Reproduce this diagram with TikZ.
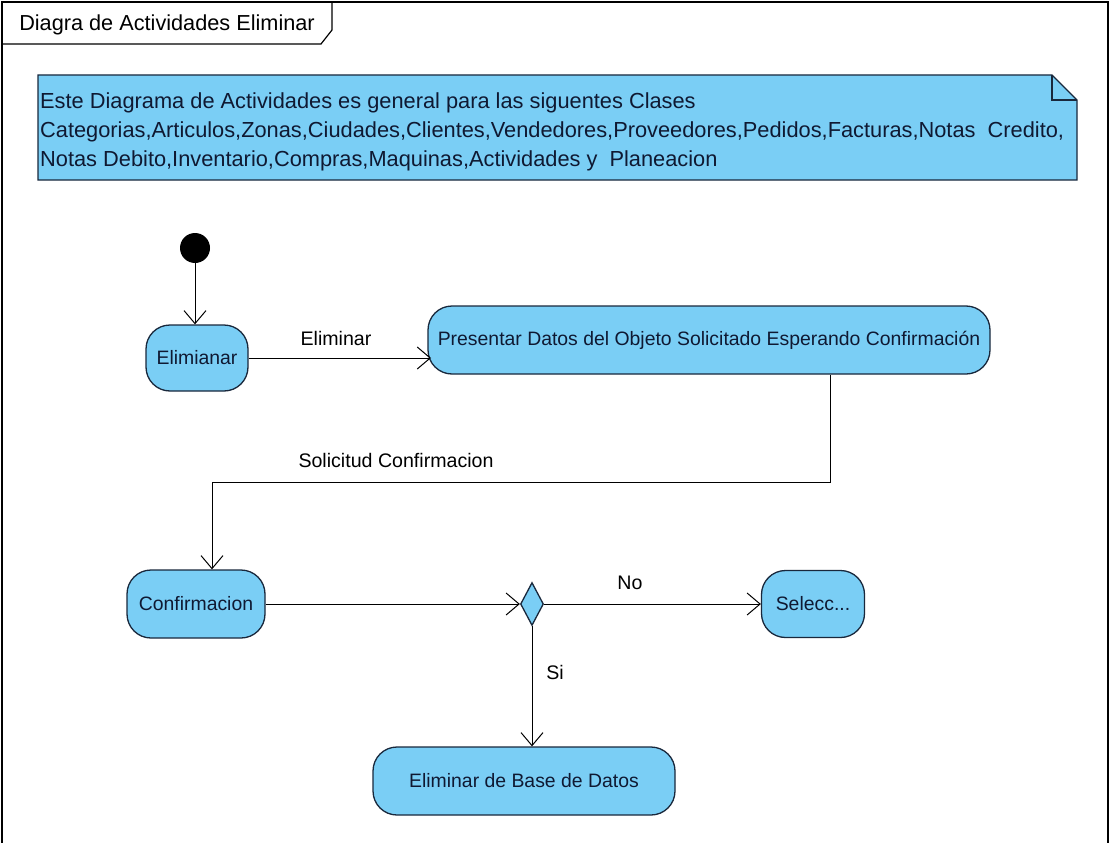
\documentclass[tikz,border=0pt]{standalone}
\usepackage{fontspec}
\setmainfont{Liberation Sans}
\usetikzlibrary{arrows.meta,shapes.geometric,calc}
\definecolor{vpfill}{RGB}{122,206,245}
\definecolor{vpline}{RGB}{25,40,60}
\definecolor{vptext}{RGB}{15,25,50}
\tikzset{
  act/.style={draw=vpline, fill=vpfill, line width=1.3pt, rounded corners=24pt,
    inner sep=0pt, text=vptext, font=\fontsize{19.4}{21}\selectfont},
  flow/.style={draw=black, line width=1pt, -{Straight Barb[length=13pt,width=22pt,line width=1pt]}},
  lbl/.style={inner sep=0pt, text=black, font=\fontsize{19.6}{21}\selectfont},
  notetxt/.style={anchor=base west, inner sep=0pt, text=vptext, font=\fontsize{21.8}{23}\selectfont},
}
\begin{document}
\begin{tikzpicture}[x=1pt,y=-1pt]
\useasboundingbox (0,0) rectangle (1111,843);
\fill[white] (0,0) rectangle (1111,843);
% frame
\draw[black, line width=1.2pt] (2,850) -- (2,2) -- (1108,2) -- (1108,850);
\draw[black, line width=1.2pt] (332,2) -- (332,30) -- (321,44) -- (2,44);
\node[lbl, font=\fontsize{21.7}{23}\selectfont] (title) at (167,25) {Diagra de Actividades Eliminar};
% note
\draw[vpline, fill=vpfill, line width=1.3pt] (38,75) -- (1052,75) -- (1077,100) -- (1077,180) -- (38,180) -- cycle;
\draw[vpline, line width=1.3pt] (1052,75) -- (1052,100) -- (1077,100);
\node[notetxt] (note1) at (40,108) {Este Diagrama de Actividades es general para las siguentes Clases};
\node[notetxt] (note2) at (40,137) {Categorias,Articulos,Zonas,Ciudades,Clientes,Vendedores,Proveedores,Pedidos,Facturas,Notas\ \ Credito,};
\node[notetxt] (note3) at (40,166) {Notas Debito,Inventario,Compras,Maquinas,Actividades y\ \ Planeacion};
% nodes
\node[circle, fill=black, minimum size=30pt, inner sep=0pt] (init) at (195,248) {};
\node[act, minimum width=102pt, minimum height=66pt] (elim) at (197,358) {Elimianar};
\node[act, minimum width=562pt, minimum height=68pt] (pres) at (709,340) {Presentar Datos del Objeto Solicitado Esperando Confirmación};
\node[act, minimum width=138pt, minimum height=68pt] (conf) at (196,604) {Confirmacion};
\node[draw=vpline, fill=vpfill, line width=1.3pt, diamond, minimum width=23pt, minimum height=43pt, inner sep=0pt] (dec) at (532,604) {};
\node[act, minimum width=103pt, minimum height=67pt] (sel) at (813,604) {Selecc...};
\node[act, minimum width=302pt, minimum height=68pt] (edb) at (524,781) {Eliminar de Base de Datos};
% connectors
\coordinate (b1) at (830,482);
\coordinate (b2) at (212,482);
\draw[flow] (init.south) -- (init.south |- elim.north);
\draw[flow] (elim.east) -- (431,358);
\draw[flow] (pres.south -| b1) -- (b1) -- (b2) -- (b2 |- conf.north);
\draw[flow] (conf.east) -- (dec.west);
\draw[flow] (dec.east) -- (sel.west);
\draw[flow] (dec.south) -- (dec.south |- edb.north);
% labels
\node[lbl] (l1) at (336,338) {Eliminar};
\node[lbl] (l2) at (396,460) {Solicitud Confirmacion};
\node[lbl] (l3) at (630,583) {No};
\node[lbl] (l4) at (555,672) {Si};
\end{tikzpicture}
\end{document}
